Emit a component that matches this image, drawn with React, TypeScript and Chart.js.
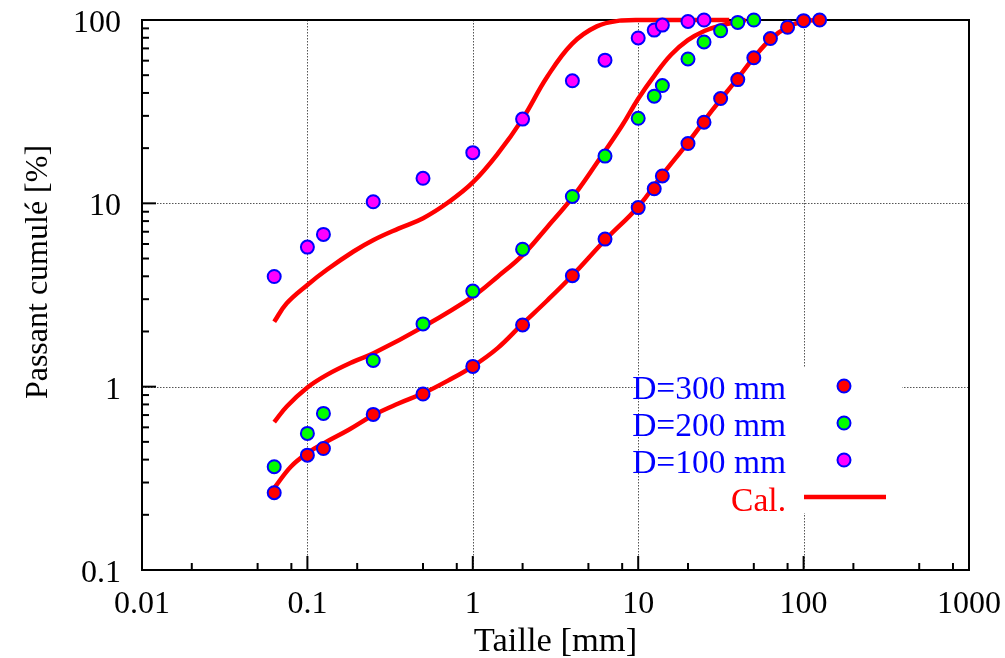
import React, { useEffect, useRef } from 'react';
import { Chart, registerables } from 'chart.js';

Chart.register(...registerables);

// ---- Data ----
const sieveSizes = [0.063, 0.1, 0.125, 0.25, 0.5, 1, 2, 4, 6.3, 10, 12.5, 14, 20, 25, 31.5, 40, 50, 63, 80, 100, 125];
const passD300 = [0.264, 0.423, 0.46, 0.706, 0.912, 1.29, 2.17, 4.03, 6.38, 9.48, 12.0, 14.1, 21.2, 27.7, 37.3, 47.3, 62.2, 79.2, 91.3, 99.2, 100];
const passD200 = [0.366, 0.556, 0.715, 1.39, 2.2, 3.32, 5.62, 10.9, 18.1, 29.1, 38.4, 43.9, 61.3, 75.9, 87.3, 97.0, 100];
const passD100 = [3.99, 5.77, 6.77, 10.2, 13.7, 18.9, 28.8, 46.6, 60.4, 79.8, 88.1, 93.8, 98.2, 100];

// fitted ("Cal.") curves
const calRx = [0.063, 0.0794, 0.1, 0.126, 0.178, 0.251, 0.355, 0.501, 0.708, 1, 1.413, 1.995, 2.818, 3.98, 6.31, 10, 14.1, 19.95, 28.2, 39.8, 50.1, 63.1, 79.4, 100, 125.9];
const calRy = [0.28, 0.366, 0.434, 0.492, 0.582, 0.70, 0.809, 0.92, 1.079, 1.291, 1.622, 2.198, 2.951, 4.027, 6.31, 9.59, 14.45, 21.4, 32.4, 47.9, 62.4, 78.5, 91.2, 98.4, 100];

const calGx = [0.063, 0.075, 0.1, 0.131, 0.19, 0.251, 0.501, 1, 1.413, 1.995, 2.818, 3.98, 5.62, 7.94, 10, 12.6, 15.8, 19.95, 25.1, 31.6, 44.7];
const calGy = [0.64, 0.78, 0.99, 1.16, 1.37, 1.52, 2.12, 3.1, 3.98, 5.2, 7.41, 10.7, 16.6, 26.3, 37.2, 50.1, 64.6, 77.6, 87.1, 93.3, 100];

const calMx = [0.063, 0.075, 0.1, 0.131, 0.19, 0.251, 0.355, 0.501, 0.708, 1, 1.413, 1.995, 2.818, 3.98, 5.62, 7.94, 10, 20, 35.5];
const calMy = [2.26, 2.85, 3.59, 4.34, 5.46, 6.31, 7.28, 8.3, 10.1, 13.0, 18.6, 28.8, 49.0, 74.1, 92.3, 99.5, 100, 100, 100];

const xMajorTicks = [0.01, 0.1, 1, 10, 100, 1000];
const xTickLabels = ['0.01', '0.1', '1', '10', '100', '1000'];
const xMinorFactors = [2, 5, 8];
const yMajorTicks = [0.1, 1, 10, 100];
const yTickLabels = ['0.1', '1', '10', '100'];
const yMinorFactors = [2, 3, 4, 5, 6, 7, 8, 9];
const xGridValues = [0.1, 1, 10, 100];
const yGridValues = [1, 10];

const xTitle = 'Taille [mm]';
const yTitle = 'Passant cumulé [%]';
const legendEntries = [
  { label: 'D=300 mm', fill: '#ff0000' },
  { label: 'D=200 mm', fill: '#00ff00' },
  { label: 'D=100 mm', fill: '#ff00ff' },
];
const calLabel = 'Cal.';

const FAMILY = '"Liberation Serif", "Times New Roman", serif';
const TICK_FONT = `32px ${FAMILY}`;
const XTITLE_FONT = `34.5px ${FAMILY}`;
const YTITLE_FONT = `32px ${FAMILY}`;
const LEGEND_FONT = `33.5px ${FAMILY}`;

const toXY = (xs: number[], ys: number[]) => ys.map((v, i) => ({ x: xs[i], y: v }));

const decorPlugin = {
  id: 'decor',
  beforeDatasetsDraw(chart: any) {
    const { ctx, chartArea: a, scales } = chart;
    const xs = scales.x;
    const ys = scales.y;
    ctx.save();
    // grid
    ctx.strokeStyle = '#555';
    ctx.lineWidth = 1;
    ctx.setLineDash([1.5, 1.5]);
    for (const v of xGridValues) {
      const px = Math.round(xs.getPixelForValue(v)) + 0.5;
      ctx.beginPath();
      ctx.moveTo(px, a.top);
      ctx.lineTo(px, a.bottom);
      ctx.stroke();
    }
    for (const v of yGridValues) {
      const py = Math.round(ys.getPixelForValue(v)) + 0.5;
      ctx.beginPath();
      ctx.moveTo(a.left, py);
      ctx.lineTo(a.right, py);
      ctx.stroke();
    }
    ctx.setLineDash([]);
    // frame
    ctx.strokeStyle = '#000';
    ctx.lineWidth = 2;
    ctx.strokeRect(a.left, a.top, a.right - a.left, a.bottom - a.top);
    // inward ticks
    for (let i = 0; i < xMajorTicks.length; i++) {
      const d = xMajorTicks[i];
      const vals: [number, number][] = [[d, 14]];
      if (i < xMajorTicks.length - 1) xMinorFactors.forEach((f) => vals.push([d * f, 7]));
      for (const [v, len] of vals) {
        const px = xs.getPixelForValue(v);
        ctx.beginPath();
        ctx.moveTo(px, a.bottom);
        ctx.lineTo(px, a.bottom - len);
        ctx.stroke();
      }
    }
    for (let i = 0; i < yMajorTicks.length; i++) {
      const d = yMajorTicks[i];
      const vals: [number, number][] = [[d, 14]];
      if (i < yMajorTicks.length - 1) yMinorFactors.forEach((f) => vals.push([d * f, 7]));
      for (const [v, len] of vals) {
        const py = ys.getPixelForValue(v);
        ctx.beginPath();
        ctx.moveTo(a.left, py);
        ctx.lineTo(a.left + len, py);
        ctx.stroke();
      }
    }
    // tick labels
    ctx.fillStyle = '#000';
    ctx.font = TICK_FONT;
    ctx.textBaseline = 'alphabetic';
    ctx.textAlign = 'center';
    xMajorTicks.forEach((v, i) => {
      ctx.fillText(xTickLabels[i], xs.getPixelForValue(v), a.bottom + 43);
    });
    ctx.textAlign = 'right';
    yMajorTicks.forEach((v, i) => {
      ctx.fillText(yTickLabels[i], a.left - 21, ys.getPixelForValue(v) + 12);
    });
    // axis titles
    ctx.textAlign = 'center';
    ctx.font = XTITLE_FONT;
    ctx.fillText(xTitle, (a.left + a.right) / 2, a.bottom + 81);
    ctx.save();
    ctx.font = YTITLE_FONT;
    ctx.translate(47, 272);
    ctx.rotate(-Math.PI / 2);
    ctx.fillText(yTitle, 0, 0);
    ctx.restore();
    ctx.restore();
  },
  afterDatasetsDraw(chart: any) {
    const { ctx } = chart;
    ctx.save();
    ctx.fillStyle = '#fff';
    ctx.fillRect(639, 367, 263, 146);
    ctx.font = LEGEND_FONT;
    ctx.textAlign = 'right';
    ctx.textBaseline = 'alphabetic';
    legendEntries.forEach((e, i) => {
      const yc = 386 + i * 37;
      ctx.fillStyle = '#0000ff';
      ctx.fillText(e.label, 786, yc + 13);
      ctx.beginPath();
      ctx.arc(844, yc, 6.5, 0, Math.PI * 2);
      ctx.fillStyle = e.fill;
      ctx.fill();
      ctx.lineWidth = 2;
      ctx.strokeStyle = '#0000ff';
      ctx.stroke();
    });
    ctx.fillStyle = '#ff0000';
    ctx.fillText(calLabel, 786, 511);
    ctx.strokeStyle = '#ff0000';
    ctx.lineWidth = 4.5;
    ctx.beginPath();
    ctx.moveTo(804, 497);
    ctx.lineTo(886, 497);
    ctx.stroke();
    ctx.restore();
  },
};

const pointDs = (label: string, ys: number[], fill: string) => ({
  type: 'scatter' as const,
  label,
  data: toXY(sieveSizes, ys),
  showLine: false,
  pointRadius: 6.5,
  pointBorderWidth: 2,
  pointBackgroundColor: fill,
  pointBorderColor: '#0000ff',
  clip: false as const,
});

const lineDs = (label: string, xs: number[], ys: number[]) => ({
  type: 'line' as const,
  label,
  data: toXY(xs, ys),
  showLine: true,
  borderColor: '#ff0000',
  borderWidth: 4.5,
  pointRadius: 0,
  fill: false,
  tension: 0.4,
  clip: 3,
});

export default function App() {
  const ref = useRef<HTMLCanvasElement | null>(null);
  useEffect(() => {
    if (!ref.current) return;
    const chart = new Chart(ref.current, {
      type: 'scatter',
      data: {
        datasets: [
          pointDs('D=300 mm', passD300, '#ff0000'),
          pointDs('D=200 mm', passD200, '#00ff00'),
          pointDs('D=100 mm', passD100, '#ff00ff'),
          lineDs('Cal. D=300', calRx, calRy),
          lineDs('Cal. D=200', calGx, calGy),
          lineDs('Cal. D=100', calMx, calMy),
        ] as any,
      },
      options: {
        responsive: false,
        animation: false,
        devicePixelRatio: 1,
        events: [],
        layout: { padding: { top: 20, right: 36, left: 0, bottom: 0 } },
        plugins: { legend: { display: false }, tooltip: { enabled: false }, title: { display: false } },
        scales: {
          x: {
            type: 'logarithmic',
            min: 0.01,
            max: 1000,
            grid: { display: false },
            border: { display: false },
            ticks: { display: false },
            afterFit: (s: any) => { s.height = 88; },
          },
          y: {
            type: 'logarithmic',
            min: 0.1,
            max: 100,
            grid: { display: false },
            border: { display: false },
            ticks: { display: false },
            afterFit: (s: any) => { s.width = 142; },
          },
        },
      } as any,
      plugins: [decorPlugin],
    });
    return () => chart.destroy();
  }, []);
  return (
    <div style={{ position: 'absolute', left: 0, top: 0, width: 1005, height: 658, background: '#fff' }}>
      <canvas ref={ref} width={1005} height={658} style={{ display: 'block' }} />
    </div>
  );
}
